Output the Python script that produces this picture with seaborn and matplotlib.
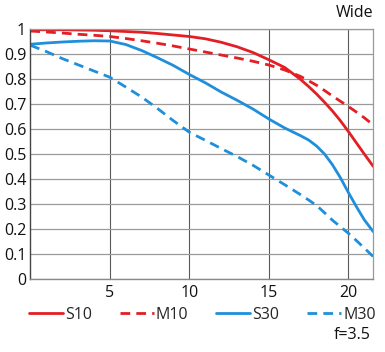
import numpy as np
import pandas as pd
import matplotlib
matplotlib.use("Agg")
import matplotlib.pyplot as plt
import seaborn as sns

# positions along the image height (mm)
x = [0, 1, 2, 3, 4, 5, 6, 7, 8, 9, 10, 11, 12, 13, 14, 15, 16, 17, 17.5, 18, 18.5,
     19, 19.5, 20, 20.5, 21, 21.57]

s10 = [0.997, 0.997, 0.997, 0.996, 0.995, 0.993, 0.990, 0.987, 0.982, 0.976, 0.970, 0.961,
       0.947, 0.929, 0.906, 0.877, 0.846, 0.798, 0.770, 0.740, 0.707, 0.672, 0.633,
       0.590, 0.545, 0.500, 0.450]
m10 = [0.992, 0.988, 0.984, 0.979, 0.975, 0.970, 0.962, 0.953, 0.943, 0.932, 0.920, 0.908,
       0.896, 0.884, 0.871, 0.856, 0.836, 0.810, 0.793, 0.775, 0.754, 0.732, 0.711,
       0.690, 0.668, 0.645, 0.616]
s30 = [0.939, 0.944, 0.948, 0.951, 0.953, 0.952, 0.938, 0.914, 0.885, 0.854, 0.818, 0.785,
       0.748, 0.715, 0.680, 0.640, 0.604, 0.573, 0.556, 0.532, 0.500, 0.457, 0.405,
       0.346, 0.290, 0.237, 0.189]
m30 = [0.935, 0.910, 0.882, 0.857, 0.832, 0.807, 0.768, 0.728, 0.682, 0.633, 0.587, 0.555,
       0.522, 0.490, 0.455, 0.416, 0.377, 0.337, 0.316, 0.294, 0.265, 0.235, 0.209,
       0.183, 0.154, 0.124, 0.089]

series = ["S10", "M10", "S30", "M30"]
values = [s10, m10, s30, m30]
colors = ["#e31e24", "#e31e24", "#1f8fdc", "#1f8fdc"]
styles = ["-", (0, (3.5, 2.2)), "-", (0, (3.5, 2.2))]

xticks = [5, 10, 15, 20]
yticks = [0, 0.1, 0.2, 0.3, 0.4, 0.5, 0.6, 0.7, 0.8, 0.9, 1.0]
ylabels = ["0", "0.1", "0.2", "0.3", "0.4", "0.5", "0.6", "0.7", "0.8", "0.9", "1"]

sns.set_style("white")
plt.rcParams["font.family"] = ["Open Sans", "DejaVu Sans"]
fs = 11.5

fig = plt.figure(figsize=(3.85, 3.52), dpi=100)
ax = fig.add_axes([0.0787, 0.2074, 0.891, 0.7102])

for name, vals, c, ls in zip(series, values, colors, styles):
    df = pd.DataFrame({"x": x, "y": vals})
    sns.lineplot(data=df, x="x", y="y", ax=ax, color=c, linestyle=ls,
                 linewidth=2.0, label=name)

ax.set_xlim(0, 21.57)
ax.set_ylim(0, 1)
ax.set_xticks(xticks)
ax.set_xticklabels([str(t) for t in xticks])
ax.set_yticks(yticks)
ax.set_yticklabels(ylabels)
ax.set_xlabel("")
ax.set_ylabel("")
ax.tick_params(length=0, labelsize=fs, colors="#111")
ax.tick_params(axis="y", pad=3)
ax.tick_params(axis="x", pad=4)

ax.xaxis.grid(True, color="#5a5a5a", linewidth=0.8)
ax.yaxis.grid(True, color="#9a9a9a", linewidth=0.9)
ax.set_axisbelow(True)
for side in ["top", "right"]:
    ax.spines[side].set_color("#9a9a9a")
    ax.spines[side].set_linewidth(0.9)
ax.spines["left"].set_color("#444")
ax.spines["left"].set_linewidth(1.0)
ax.spines["bottom"].set_color("#8a8a8a")
ax.spines["bottom"].set_linewidth(1.0)

handles, labels = ax.get_legend_handles_labels()
ax.get_legend().remove()
fig.legend(handles, labels, loc="center", bbox_to_anchor=(0.526, 0.105), ncol=4,
           frameon=False, fontsize=fs, handlelength=2.1, handletextpad=0.15,
           columnspacing=1.75, borderaxespad=0)

fig.text(0.969, 0.962, "Wide", ha="right", va="center", fontsize=fs, color="#111")
fig.text(0.962, 0.048, "f=3.5", ha="right", va="center", fontsize=fs, color="#111")

fig.savefig("out.png", dpi=100)
